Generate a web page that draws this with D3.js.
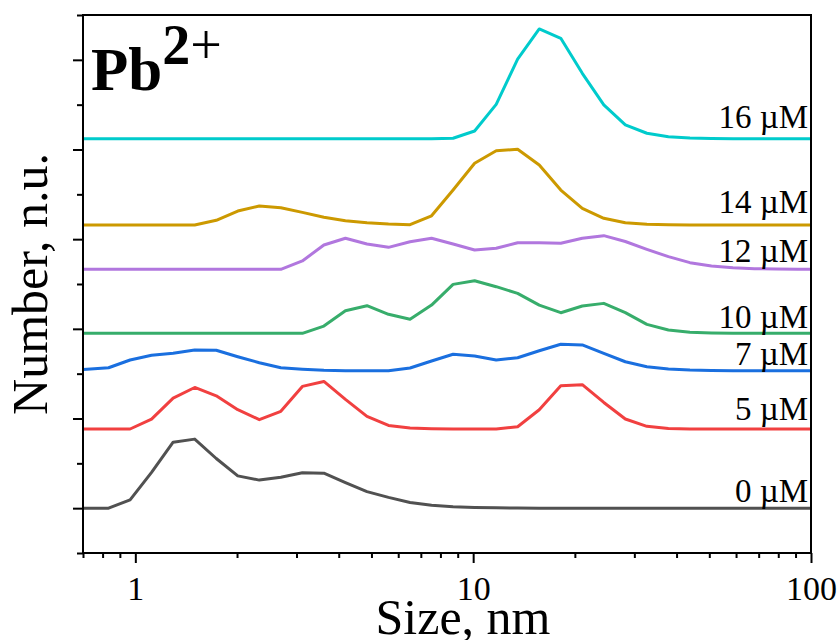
<!DOCTYPE html>
<html>
<head>
<meta charset="utf-8">
<script src="https://cdn.jsdelivr.net/npm/d3@7"></script>
<style>
  body { margin: 0; background: #fff; }
  text { font-family: "Liberation Serif", "Times New Roman", serif; fill: #000; }
</style>
</head>
<body>
<div id="viz-container"></div>
<script>
// DLS size bins (nm)
let sizes = [0.6213, 0.7195, 0.8332, 0.9649, 1.117, 1.294, 1.499, 1.736, 2.010, 2.328,
  2.696, 3.122, 3.615, 4.187, 4.849, 5.615, 6.503, 7.531, 8.721, 10.10,
  11.70, 13.54, 15.69, 18.17, 21.04, 24.36, 28.21, 32.67, 37.84, 43.82,
  50.75, 58.77, 68.06, 78.82, 91.28, 105.7];

let conc = ["0 \u00B5M", "5 \u00B5M", "7 \u00B5M", "10 \u00B5M", "12 \u00B5M", "14 \u00B5M", "16 \u00B5M"];
let offsets = [0, 0.883, 1.533, 1.95, 2.664, 3.158, 4.121];

let n0 = [0, 0, 0, 0.093, 0.40, 0.736, 0.77, 0.554, 0.36, 0.313,
  0.345, 0.395, 0.39, 0.285, 0.185, 0.12, 0.064, 0.033, 0.015, 0.008,
  0.004, 0.002, 0, 0, 0, 0, 0, 0, 0, 0,
  0, 0, 0, 0, 0, 0];
let n5 = [0, 0, 0, 0, 0.11, 0.345, 0.463, 0.37, 0.215, 0.104,
  0.197, 0.475, 0.53, 0.33, 0.14, 0.04, 0.011, 0.003, 0, 0,
  0, 0.025, 0.215, 0.483, 0.494, 0.296, 0.111, 0.03, 0.005, 0,
  0, 0, 0, 0, 0, 0];
let n7 = [0, 0.015, 0.033, 0.119, 0.172, 0.194, 0.231, 0.228, 0.156, 0.089,
  0.033, 0.016, 0.004, 0, 0, 0, 0.03, 0.108, 0.183, 0.164,
  0.119, 0.145, 0.223, 0.295, 0.287, 0.194, 0.10, 0.045, 0.019, 0.008,
  0.003, 0, 0, 0, 0, 0];
let n10 = [0, 0, 0, 0, 0, 0, 0, 0, 0, 0,
  0, 0, 0.081, 0.252, 0.308, 0.212, 0.156, 0.315, 0.546, 0.586,
  0.52, 0.446, 0.315, 0.23, 0.304, 0.334, 0.23, 0.10, 0.037, 0.012,
  0.004, 0, 0, 0, 0, 0];
let n12 = [0, 0, 0, 0, 0, 0, 0, 0, 0, 0,
  0, 0.093, 0.271, 0.346, 0.282, 0.245, 0.308, 0.346, 0.282, 0.215,
  0.234, 0.296, 0.296, 0.29, 0.346, 0.375, 0.31, 0.223, 0.141, 0.074,
  0.037, 0.018, 0.007, 0.002, 0, 0];
let n14 = [0, 0, 0, 0, 0, 0, 0, 0.052, 0.156, 0.212,
  0.193, 0.141, 0.086, 0.048, 0.026, 0.011, 0.003, 0.103, 0.39, 0.688,
  0.828, 0.844, 0.669, 0.39, 0.186, 0.075, 0.026, 0.008, 0.002, 0,
  0, 0, 0, 0, 0, 0];
let n16 = [0, 0, 0, 0, 0, 0, 0, 0, 0, 0,
  0, 0, 0, 0, 0, 0, 0, 0, 0.004, 0.085,
  0.382, 0.886, 1.223, 1.119, 0.729, 0.376, 0.153, 0.06, 0.022, 0.008,
  0.002, 0, 0, 0, 0, 0];

let seriesValues = [n0, n5, n7, n10, n12, n14, n16];

let xMajor = [1, 10, 100];
let xMinor = [0.7, 0.8, 0.9, 2, 3, 4, 5, 6, 7, 8, 9, 20, 30, 40, 50, 60, 70, 80, 90];
let yMajor = [0, 1, 2, 3, 4, 5];
let yMinor = [-0.5, 0.5, 1.5, 2.5, 3.5, 4.5, 5.5];

// styling
let colors = ["#515151", "#F14040", "#1A6FDF", "#37AD6B", "#B177DE", "#CC9900", "#00CBCC"];
let labelLift = [6, 9, 6, 5, 7, 12, 11];

let W = 840, H = 640;
let plotL = 83, plotR = 811, plotT = 15, plotB = 553;

let viz = d3.select("#viz-container")
  .append("svg")
  .attr("width", W)
  .attr("height", H);

let x = d3.scaleLog().domain([0.7, 100]).range([plotL, plotR]);
let y = d3.scaleLinear().domain([-0.5, 5.5]).range([plotB, plotT]);

viz.append("clipPath").attr("id", "clip")
  .append("rect")
  .attr("x", plotL).attr("y", plotT)
  .attr("width", plotR - plotL).attr("height", plotB - plotT);

// lines
let line = d3.line()
  .x((d, i) => x(sizes[i]))
  .y(d => y(d));

seriesValues.forEach(function(vals, k) {
  let shifted = vals.map(v => v + offsets[k]);
  viz.append("path")
    .datum(shifted)
    .attr("clip-path", "url(#clip)")
    .attr("fill", "none")
    .attr("stroke", colors[k])
    .attr("stroke-width", 3)
    .attr("stroke-linejoin", "round")
    .attr("d", line);

  viz.append("text")
    .attr("x", 808)
    .attr("y", y(offsets[k]) - labelLift[k])
    .attr("text-anchor", "end")
    .style("font-size", "33px")
    .text(conc[k]);
});

// axes
function styleAxis(g) {
  g.select(".domain").remove();
  g.selectAll(".tick line").attr("stroke", "#000").attr("stroke-width", 2);
  g.selectAll("text").style("font-family", "'Liberation Serif', serif").style("font-size", "34px").attr("fill", "#000");
}

viz.append("g")
  .attr("transform", "translate(0," + plotB + ")")
  .call(d3.axisBottom(x).tickValues(xMajor).tickSize(10).tickPadding(13).tickFormat(d3.format("d")))
  .call(styleAxis);

viz.append("g")
  .attr("transform", "translate(0," + plotB + ")")
  .call(d3.axisBottom(x).tickValues(xMinor).tickSize(5).tickFormat(""))
  .call(styleAxis);

viz.append("g")
  .attr("transform", "translate(" + plotL + ",0)")
  .call(d3.axisLeft(y).tickValues(yMajor).tickSize(10).tickFormat(""))
  .call(styleAxis);

viz.append("g")
  .attr("transform", "translate(" + plotL + ",0)")
  .call(d3.axisLeft(y).tickValues(yMinor).tickSize(6).tickFormat(""))
  .call(styleAxis);

// frame
viz.append("rect")
  .attr("x", plotL).attr("y", plotT)
  .attr("width", plotR - plotL).attr("height", plotB - plotT)
  .attr("fill", "none")
  .attr("stroke", "#000")
  .attr("stroke-width", 2);

// titles
viz.append("text")
  .attr("x", 463).attr("y", 634)
  .attr("text-anchor", "middle")
  .style("font-size", "50px")
  .text("Size, nm");

viz.append("text")
  .attr("transform", "translate(47,284) rotate(-90)")
  .attr("text-anchor", "middle")
  .style("font-size", "50px")
  .text("Number, n.u.");

let ion = viz.append("text")
  .attr("x", 91).attr("y", 90)
  .style("font-size", "61px");
ion.append("tspan").style("font-weight", "bold").text("Pb");
ion.append("tspan").attr("dy", -26).style("font-weight", "bold").style("font-size", "56px").text("2");
ion.append("tspan").style("font-size", "56px").text("+");
</script>
</body>
</html>
